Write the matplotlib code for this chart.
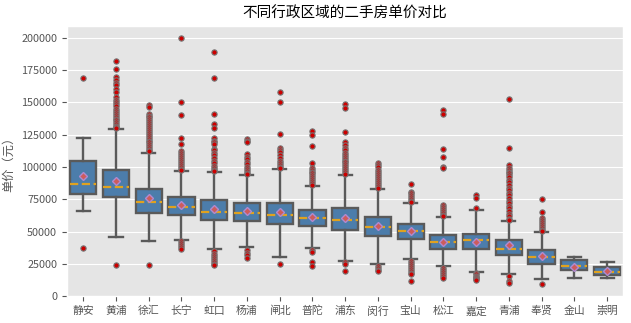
import matplotlib
matplotlib.use("Agg")
import matplotlib.pyplot as plt

districts = ["静安", "黄浦", "徐汇", "长宁", "虹口", "杨浦", "闸北", "普陀", "浦东",
             "闵行", "宝山", "松江", "嘉定", "青浦", "奉贤", "金山", "崇明"]

# box stats (yuan per m2)
q1 = [79000, 76700, 64400, 62900, 59100, 58300, 55500, 54500, 51400,
      46800, 44500, 36800, 36800, 32200, 25000, 19900, 16600]
medians = [86700, 84600, 72900, 69300, 65200, 64400, 63100, 60600, 59100,
           53900, 50100, 41600, 43700, 36800, 30600, 23200, 19100]
q3 = [104600, 97700, 83100, 77000, 74400, 72300, 72300, 66700, 68500,
      61600, 55500, 47000, 48500, 43200, 35500, 27800, 22400]
whislo = [65900, 46200, 42400, 43700, 36800, 38300, 30600, 37600, 27100,
          25300, 28600, 23200, 18600, 16800, 13000, 14000, 14000]
whishi = [122200, 129100, 111200, 96700, 96100, 93600, 98200, 85400, 93600,
          82800, 72300, 61300, 66700, 58500, 49800, 30600, 26300]
means = [93300, 89000, 75700, 70600, 67200, 65700, 65200, 61100, 60300,
         54400, 50600, 42200, 41900, 39300, 31200, 22700, 19600]

fliers = [
    [168600, 37300],
    [182400, 176200, 169600, 167500, 165000, 163400, 160000, 158000, 154000, 152000,
     150000, 148500, 147000, 145000, 143500, 142000, 140500, 139000, 137500, 136000,
     134500, 133000, 132000, 131000, 130000, 24200],
    [147600, 146500, 140900, 139800, 138500, 137000, 135500, 134000, 132500, 131000,
     129500, 128000, 126500, 125000, 123500, 122000, 120500, 119000, 117500, 116000,
     114500, 113000, 112000, 24200],
    [199500, 150100, 140200, 122500, 117900, 112000, 110500, 109000, 107500, 106000,
     104500, 103000, 101500, 100000, 98500, 97500, 42400, 41000, 39500, 38000, 36700],
    [189300, 168500, 140900, 133200, 130200, 122500, 120500, 119000, 118000, 114000,
     112800, 111000, 109000, 107000, 105000, 103000, 101000, 99500, 98000, 97000,
     34800, 33000, 31000, 29500, 28000, 26500, 25000, 24500],
    [121700, 120500, 119000, 109700, 108000, 106000, 104000, 102000, 100000, 98500,
     97000, 95500, 94500, 35500, 33500, 32200, 29600],
    [157800, 150100, 125600, 114800, 113000, 111500, 109000, 107000, 105000, 103000,
     101500, 100000, 99000, 25000],
    [128100, 124800, 116400, 103300, 99500, 98000, 96500, 95000, 93500, 92000,
     90500, 89000, 87500, 86000, 35500, 34500, 26500, 23500],
    [148900, 145500, 127100, 119700, 117000, 115000, 113000, 111000, 109500, 108000,
     106500, 105000, 103500, 102000, 100500, 99000, 97500, 96000, 94500, 26500,
     25000, 19400],
    [103000, 101500, 100000, 98000, 96000, 94500, 93000, 91500, 90000, 88500, 87000,
     85500, 84000, 23700, 22000, 20500, 19400],
    [87000, 80500, 79500, 78000, 76500, 75000, 74000, 73000, 27000, 25500, 24000,
     22500, 21000, 19500, 18000, 16800, 12000],
    [144000, 140900, 114000, 107900, 100300, 99500, 70500, 69000, 67500, 66000,
     64500, 63000, 61800, 21900, 20500, 19000, 17500, 16000, 14300],
    [78700, 75700, 68000, 18100, 17000, 16000, 15000, 14000, 13000, 12500],
    [152400, 114800, 101300, 99500, 98000, 96500, 95000, 93500, 92000, 90000, 88000,
     86000, 84000, 82000, 80000, 78000, 76000, 74000, 72000, 70000, 68000, 66000,
     64000, 62000, 60000, 59000, 15600, 11700, 10400],
    [74900, 65400, 60300, 59000, 57500, 56000, 54500, 53000, 51500, 50100, 9700],
    [],
    [],
]

plt.style.use("ggplot")
plt.rcParams["font.family"] = ["Noto Sans CJK SC", "DejaVu Sans"]
plt.rcParams["axes.unicode_minus"] = False

stats = []
for i, name in enumerate(districts):
    stats.append({
        "label": name,
        "q1": q1[i],
        "med": medians[i],
        "q3": q3[i],
        "whislo": whislo[i],
        "whishi": whishi[i],
        "mean": means[i],
        "fliers": fliers[i],
    })

edge = "#5a5a5a"
fig, ax = plt.subplots(figsize=(6.31, 3.23), dpi=100)
fig.subplots_adjust(left=0.106, right=0.988, top=0.919, bottom=0.083)

ax.bxp(
    stats,
    positions=range(len(districts)),
    widths=0.8,
    showmeans=True,
    patch_artist=True,
    boxprops=dict(facecolor="#4c7dab", edgecolor=edge, linewidth=1.7),
    whiskerprops=dict(color=edge, linewidth=1.7),
    capprops=dict(color=edge, linewidth=1.7),
    medianprops=dict(color="#e0a21f", linestyle="--", linewidth=1.6),
    meanprops=dict(marker="D", markerfacecolor="indianred", markeredgecolor="#b08ad0",
                   markersize=4.5),
    flierprops=dict(marker="o", markerfacecolor="#cc0000", markeredgecolor="#777777",
                    markersize=3.8, markeredgewidth=0.8),
)

ax.set_xlim(-0.5, len(districts) - 0.5)
ax.set_ylim(0, 209000)
ax.set_yticks(range(0, 200001, 25000))
ax.grid(axis="x", visible=False)
ax.set_title("不同行政区域的二手房单价对比", fontsize=10.5, color="black")
ax.set_ylabel("单价（元）", fontsize=8.8, color="#555555")
ax.tick_params(axis="both", labelsize=7.8, colors="#555555")

fig.savefig("out.png", dpi=100)
